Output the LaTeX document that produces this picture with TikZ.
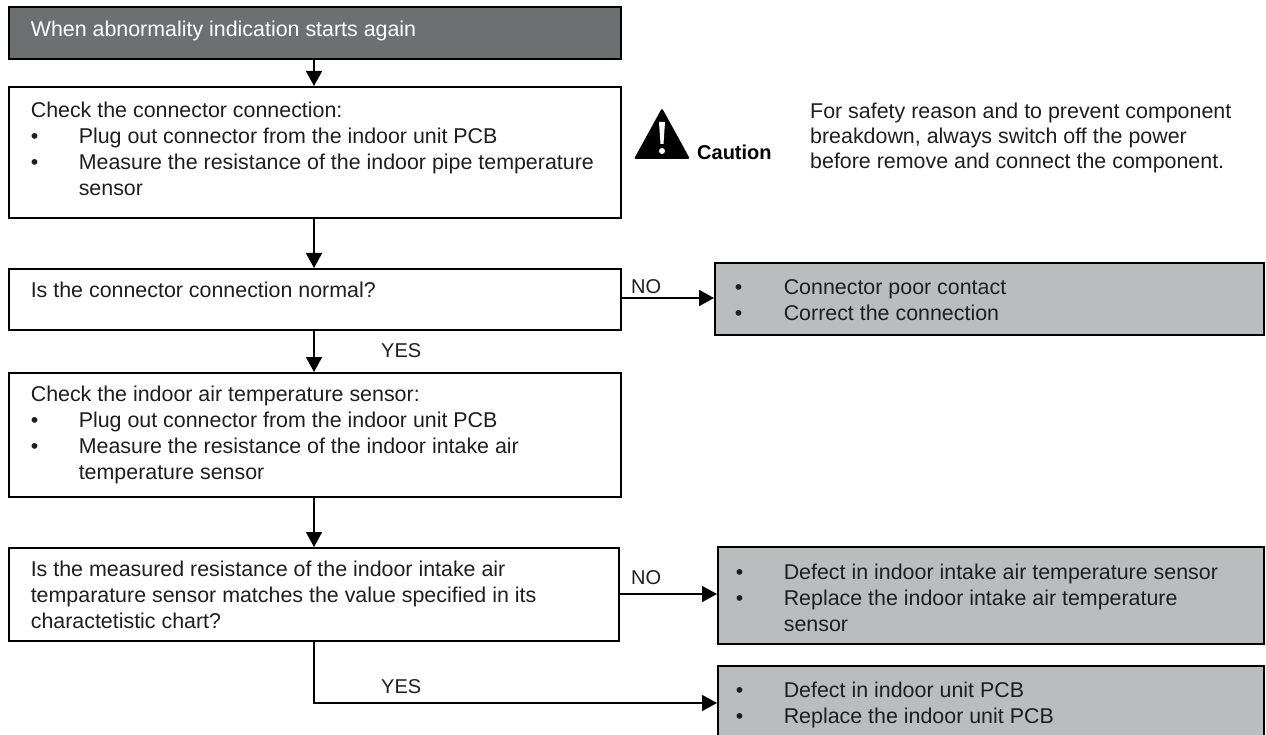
\documentclass[tikz,border=0pt]{standalone}
\usepackage{fontspec}
\setmainfont{Liberation Sans}
\usetikzlibrary{arrows.meta}
\definecolor{darkhead}{HTML}{6D7071}
\definecolor{grayfill}{HTML}{BABDBE}
\definecolor{ink}{HTML}{1E1E1E}
\newcommand{\bul}[2][48pt]{\makebox[#1][l]{•}#2\par}
\newcommand{\cont}[2][48pt]{\hspace*{#1}#2\par}
\newcommand{\boxbody}[4]{\parbox[c][#2][t]{#1}{\setlength{\parindent}{0pt}\fontsize{21.4pt}{26pt}\selectfont\vspace*{#3}#4}}
\tikzset{
  flow/.style={draw=black,line width=1.6pt,fill=white,text=ink,anchor=north west,inner xsep=0pt,inner ysep=0pt,align=left},
  headbox/.style={flow,fill=darkhead,text=white},
  resultbox/.style={flow,fill=grayfill},
  conn/.style={line width=1.6pt,-{Triangle[length=15pt,width=16pt]}},
  lbl/.style={text=ink,font=\fontsize{20pt}{22pt}\selectfont,inner sep=0pt,anchor=base west}
}
\begin{document}
\begin{tikzpicture}[x=1pt,y=-1pt]
\useasboundingbox (0,0) rectangle (1266,735);
\node[headbox] (start) at (8,6) {\boxbody{612pt}{52pt}{14pt}{\hspace*{22pt}When abnormality indication starts again}};
\node[flow] (check1) at (8,86) {\boxbody{612pt}{131pt}{15pt}{\leftskip=22pt Check the connector connection:\par\bul{Plug out connector from the indoor unit PCB}\bul{Measure the resistance of the indoor pipe temperature}\cont{sensor}}};
\node[flow] (q1) at (8,268) {\boxbody{612pt}{61pt}{13pt}{\leftskip=22pt Is the connector connection normal?}};
\node[flow] (check2) at (8,372) {\boxbody{612pt}{124pt}{13pt}{\leftskip=22pt Check the indoor air temperature sensor:\par\bul{Plug out connector from the indoor unit PCB}\bul{Measure the resistance of the indoor intake air}\cont{temperature sensor}}};
\node[flow] (q2) at (8,547) {\boxbody{610pt}{93pt}{13pt}{\leftskip=22pt Is the measured resistance of the indoor intake air\par temparature sensor matches the value specified in its\par charactetistic chart?}};
\node[resultbox] (r1) at (714,262) {\boxbody{549pt}{72pt}{17pt}{\leftskip=20pt\bul[49pt]{Connector poor contact}\bul[49pt]{Correct the connection}}};
\node[resultbox] (r2) at (717,546) {\boxbody{546pt}{97pt}{17pt}{\leftskip=18pt\bul[48pt]{Defect in indoor intake air temperature sensor}\bul[48pt]{Replace the indoor intake air temperature}\cont{sensor}}};
\node[resultbox] (r3) at (717,665) {\boxbody{546pt}{72pt}{16pt}{\leftskip=18pt\bul[48pt]{Defect in indoor unit PCB}\bul[48pt]{Replace the indoor unit PCB}}};
\draw[conn] (start.south -| 314,0) -- (check1.north -| 314,0);
\draw[conn] (check1.south -| 314,0) -- (q1.north -| 314,0);
\draw[conn] (q1.south -| 314,0) -- (check2.north -| 314,0);
\draw[conn] (check2.south -| 314,0) -- (q2.north -| 314,0);
\draw[conn] (q1.east |- 0,298) -- (r1.west |- 0,298);
\draw[conn] (q2.east |- 0,594) -- (r2.west |- 0,594);
\draw[conn] (q2.south -| 314,0) |- (r3.west |- 0,703);
\node[lbl] (no1) at (631,294) {NO};
\node[lbl] (yes1) at (381,357) {YES};
\node[lbl] (no2) at (631,584) {NO};
\node[lbl] (yes2) at (381,693) {YES};
\fill[black,rounded corners=1.5pt] (662,108) -- (690,159) -- (634,159) -- cycle;
\fill[white] (659,122) -- (665,122) -- (663.5,144) -- (660.5,144) -- cycle;
\fill[white] (662,151) circle (3pt);
\node[lbl,text=black,font=\fontsize{20pt}{22pt}\bfseries\selectfont] (caution) at (697,160) {Caution};
\node[lbl,anchor=north west,align=left,font=\fontsize{21.4pt}{25pt}\selectfont] (note) at (810,103) {For safety reason and to prevent component\\breakdown, always switch off the power\\before remove and connect the component.};
\end{tikzpicture}
\end{document}
